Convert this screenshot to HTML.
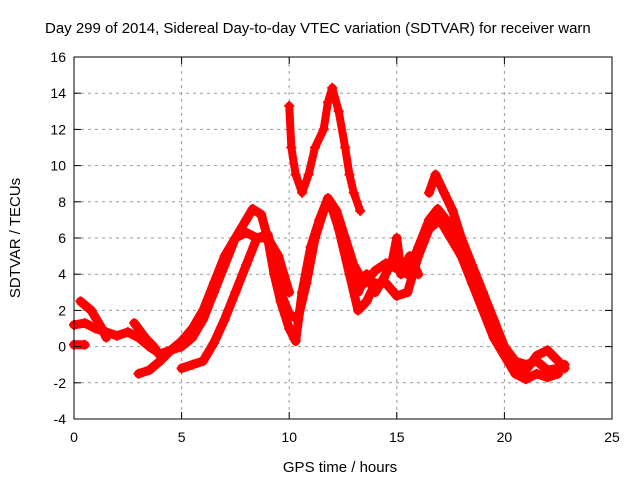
<!DOCTYPE html>
<html><head><meta charset="utf-8"><style>
body{margin:0;background:#fff;}
svg{display:block;font-family:"Liberation Sans",sans-serif;}
</style></head><body>
<svg id="chart" width="640" height="480">
<text x="45" y="33" font-size="15">Day 299 of 2014, Sidereal Day-to-day VTEC variation (SDTVAR) for receiver warn</text>
<text x="340" y="472" font-size="15" text-anchor="middle">GPS time / hours</text>
<text x="20" y="238" font-size="15" text-anchor="middle" transform="rotate(-90 20 238)">SDTVAR / TECUs</text>
<g id="grid"></g><g id="series"></g><g id="axes"></g>
</svg>
<script>
const xTicks=[0,5,10,15,20,25];
const yTicks=[-4,-2,0,2,4,6,8,10,12,14,16];
const trace1=[[0,1.2],[0.5,1.3],[1,1],[1.5,0.8],[2,0.6],[2.5,0.8],[3,0.5],[3.5,0],[4,-0.4],[4.5,-0.2],[5,0],[5.5,0.5],[6,1.5],[6.5,3],[7,4.5],[7.5,6],[8,7],[8.3,7.6],[8.7,7.3],[9,6],[9.3,4],[9.6,2.5],[10,1],[10.3,0.3],[10.6,3],[11,5.5],[11.4,7],[11.8,8.2],[12.2,7.5],[12.6,6],[13,4.5],[13.5,3.5],[14,4.2],[14.5,4.6],[15,4.3],[15.5,4],[16,5.5],[16.5,7],[16.9,7.6],[17.3,7],[17.8,6],[18.5,4],[19,2.5],[19.5,1],[20,0],[20.5,-0.8],[21,-1],[21.5,-0.8],[22,-1.3],[22.5,-1.2],[22.8,-1]];
const trace2=[[3,-1.5],[3.5,-1.3],[4,-0.8],[4.5,-0.2],[5,0.3],[5.5,1],[6,2],[6.5,3.5],[7,5],[7.5,6],[8,6.3],[8.5,6],[9,6.2],[9.3,5],[9.6,3],[10,1.8],[10.4,1.5],[10.8,3.5],[11.2,6],[11.6,7.5],[11.9,8],[12.3,6.5],[12.8,4],[13.2,2],[13.6,2.5],[14,3.5],[14.5,3.5],[15,2.8],[15.5,3],[16,5],[16.5,6.5],[17,7],[17.5,6],[18,5],[18.5,3.5],[19,2],[19.5,0.5],[20,-0.5],[20.5,-1.5],[21,-1.8],[21.5,-1.5],[22,-1.7],[22.5,-1.5]];
const trace3=[[0.3,2.5],[0.8,2],[1.2,1.2],[1.5,0.5]];
const trace4=[[0,0.1],[0.5,0.1]];
const trace5=[[2.8,1.3],[3.3,0.5],[3.7,0],[4,-0.5],[4.5,-0.2]];
const trace6=[[5,-1.2],[5.5,-1],[6,-0.8],[6.5,0.2],[7,1.5],[7.5,3],[8,4.5],[8.5,6],[9,6],[9.5,5],[10,3]];
const trace7=[[10,13.3],[10.1,11],[10.3,9.5],[10.6,8.5],[10.9,9.5],[11.2,11],[11.6,12],[11.8,13.5],[12,14.3],[12.3,13],[12.6,11],[12.8,9.5],[13,8.5],[13.3,7.5]];
const trace8=[[16.5,8.5],[16.8,9.5],[17.2,8.5],[17.6,7.5],[18,6],[18.5,4.5],[19,3],[19.5,1.5],[20,0],[20.5,-1],[21,-1.3],[21.5,-0.5],[22,-0.2],[22.5,-0.8],[22.8,-1.2]];
const trace9=[[12.8,4.5],[13.2,3],[13.6,4],[14,3],[14.4,3.8],[14.8,4.8],[15,6],[15.2,4],[15.6,5],[16,4]];
const traces=[trace1,trace2,trace3,trace4,trace5,trace6,trace7,trace8,trace9];
const X0=74,X1=612,Y0=419,Y1=57;
const sx=t=>X0+(t-0)/(25-0)*(X1-X0);
const sy=v=>Y0-(v+4)/(16+4)*(Y0-Y1);
const NS="http://www.w3.org/2000/svg";
function mk(tag,attrs,parent){const e=document.createElementNS(NS,tag);for(const k in attrs)e.setAttribute(k,attrs[k]);parent.appendChild(e);return e;}
const grid=document.getElementById('grid'),axes=document.getElementById('axes'),ser=document.getElementById('series');
xTicks.forEach(t=>{const x=sx(t);
 if(t>0&&t<25){const l=mk('line',{x1:x,x2:x,y1:Y1,y2:Y0,stroke:'#999','stroke-dasharray':'3,4'},grid);
 
 }
 mk('line',{x1:x,x2:x,y1:Y0,y2:Y0-7,stroke:'#000'},axes);
 mk('line',{x1:x,x2:x,y1:Y1,y2:Y1+7,stroke:'#000'},axes);
 const tx=mk('text',{x:x,y:Y0+23,'font-size':14,'text-anchor':'middle'},axes);tx.textContent=t;
 
 });
yTicks.forEach(v=>{const y=sy(v);
 if(v>-4&&v<16){const l=mk('line',{x1:X0,x2:X1,y1:y,y2:y,stroke:'#999','stroke-dasharray':'3,4'},grid);
 
 }
 mk('line',{x1:X0,x2:X0+7,y1:y,y2:y,stroke:'#000'},axes);
 mk('line',{x1:X1,x2:X1-7,y1:y,y2:y,stroke:'#000'},axes);
 const tx=mk('text',{x:X0-8,y:y+5,'font-size':14,'text-anchor':'end'},axes);tx.textContent=v;
 
 });
const fr=mk('rect',{x:X0,y:Y1,width:X1-X0,height:Y0-Y1,fill:'none',stroke:'#000'},axes);


traces.forEach((tr,i)=>{
 const p=mk('polyline',{points:tr.map(d=>sx(d[0])+','+sy(d[1])).join(' '),fill:'none',stroke:'#f00','stroke-width':i==6?8:9,'stroke-linejoin':'round','stroke-linecap':'round'},ser);
 
 
 tr.forEach(d=>{const x=sx(d[0]),y=sy(d[1]);
  const m=mk('path',{d:`M${x-5},${y}H${x+5}M${x},${y-5}V${y+5}`,stroke:'#f00','stroke-width':2},ser);
  
  });
});
</script>
</body></html>
